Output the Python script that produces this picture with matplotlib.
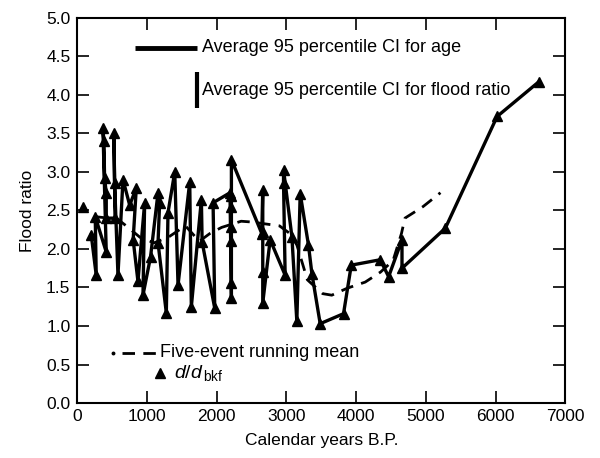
import matplotlib
matplotlib.use("Agg")
import matplotlib.pyplot as plt

plt.rcParams['font.family'] = ['Liberation Sans', 'DejaVu Sans']
plt.rcParams['mathtext.fontset'] = 'custom'
plt.rcParams['mathtext.rm'] = 'Liberation Sans'
plt.rcParams['mathtext.it'] = 'Liberation Sans:italic'

# Flood ratio d/d_bkf data (calendar years B.P., ratio) in drawing order
flood_years = [199, 270, 256, 414, 366, 380, 390, 414, 414, 540, 524, 534, 582,
               654, 750, 845, 800, 869, 965, 941, 1050, 1157, 1180, 1157, 1276,
               1300, 1397, 1444, 1612, 1635, 1779, 1790, 1971, 1947, 2190, 2210,
               2210, 2210, 2210, 2210, 2210, 2210, 2646, 2660, 2660, 2660, 2660,
               2766, 2981, 2958, 2958, 3078, 3149, 3197, 3316, 3365, 3484, 3819,
               3930, 4346, 4466, 4658, 4658, 5280, 6023, 6621]
flood_ratio = [2.18, 1.66, 2.42, 1.96, 3.57, 3.40, 2.92, 2.73, 2.40, 2.40, 3.50, 2.86, 1.66,
               2.90, 2.57, 2.79, 2.12, 1.58, 2.60, 1.40, 1.90, 2.73, 2.60, 2.08, 1.17,
               2.47, 3.00, 1.53, 2.87, 1.25, 2.64, 2.09, 1.23, 2.60, 2.73, 1.36,
               1.56, 2.10, 2.29, 2.55, 2.69, 3.16, 2.20, 2.77, 2.22, 1.70, 1.30,
               2.12, 1.66, 2.86, 3.03, 2.16, 1.06, 2.72, 2.05, 1.68, 1.03, 1.16,
               1.79, 1.86, 1.64, 2.12, 1.75, 2.27, 3.72, 4.17]

# isolated youngest event
iso_years = [79]
iso_ratio = [2.55]

# five-event running mean
mean_years = [250, 450, 560, 700, 900, 1100, 1300, 1550, 1750, 1900, 2070, 2350,
              2500, 2900, 3050, 3150, 3300, 3420, 3520, 3650, 3870, 4130, 4350,
              4530, 4650, 4700, 4960, 5210]
mean_ratio = [2.42, 2.40, 2.40, 2.30, 2.15, 2.08, 2.15, 2.30, 2.10, 2.20, 2.28, 2.36,
              2.35, 2.30, 2.20, 2.05, 1.60, 1.50, 1.42, 1.40, 1.49, 1.57, 1.70,
              1.85, 2.20, 2.40, 2.55, 2.73]

x_ticks = [0, 1000, 2000, 3000, 4000, 5000, 6000, 7000]
y_ticks = [0.0, 0.5, 1.0, 1.5, 2.0, 2.5, 3.0, 3.5, 4.0, 4.5, 5.0]

# CI legend bars (in data units)
ci_age = 890
ci_ratio = 0.47

fig = plt.figure(figsize=(6.0, 4.58), dpi=100)
ax = fig.add_axes([0.129, 0.120, 0.813, 0.841])

ax.plot(flood_years, flood_ratio, color='black', lw=2.4, marker='^', ms=7,
        solid_joinstyle='miter')
ax.plot(iso_years, iso_ratio, color='black', ls='none', marker='^', ms=7)
ax.plot(mean_years, mean_ratio, color='black', lw=2.0, ls=(0, (4.5, 3)))

ax.set_xlim(0, 7000)
ax.set_ylim(0, 5.0)
ax.set_xticks(x_ticks)
ax.set_yticks(y_ticks)
ax.set_xticklabels([str(v) for v in x_ticks])
ax.set_yticklabels([f"{v:.1f}" for v in y_ticks])
ax.tick_params(direction='in', length=8.5, width=1.2, top=True, right=True,
               labelsize=12.5, colors='black')
ax.tick_params(axis='y', pad=5)
ax.tick_params(axis='x', pad=4)
for s in ax.spines.values():
    s.set_linewidth(1.5)

ax.set_ylabel('Flood ratio', fontsize=12.5, labelpad=8)
ax.set_xlabel('Calendar years B.P.', fontsize=12.5, labelpad=7)

# Upper legend: CI bars
x0 = 820
ax.plot([x0, x0 + ci_age], [4.61, 4.61], color='black', lw=3.5, solid_capstyle='butt')
ax.text(x0 + ci_age + 80, 4.61, 'Average 95 percentile CI for age', fontsize=13,
        va='center', ha='left')
xv = x0 + ci_age
ax.plot([xv, xv], [3.83, 3.83 + ci_ratio], color='black', lw=3.0, solid_capstyle='butt')
ax.text(xv + 80, 4.06, 'Average 95 percentile CI for flood ratio', fontsize=13,
        va='center', ha='left')

# Lower legend
ax.plot([510], [0.65], color='black', marker='o', ms=1.8, ls='none')
ax.plot([640, 1140], [0.65, 0.65], color='black', lw=2.0, ls=(0, (4.5, 3)))
ax.text(1180, 0.65, 'Five-event running mean', fontsize=13, va='center', ha='left')
ax.plot([1190], [0.39], color='black', marker='^', ms=7, ls='none')
ax.text(1380, 0.39, r'$d/d_{\,\mathrm{bkf}}$', fontsize=14, va='center', ha='left')

fig.savefig('out.png', dpi=100)
